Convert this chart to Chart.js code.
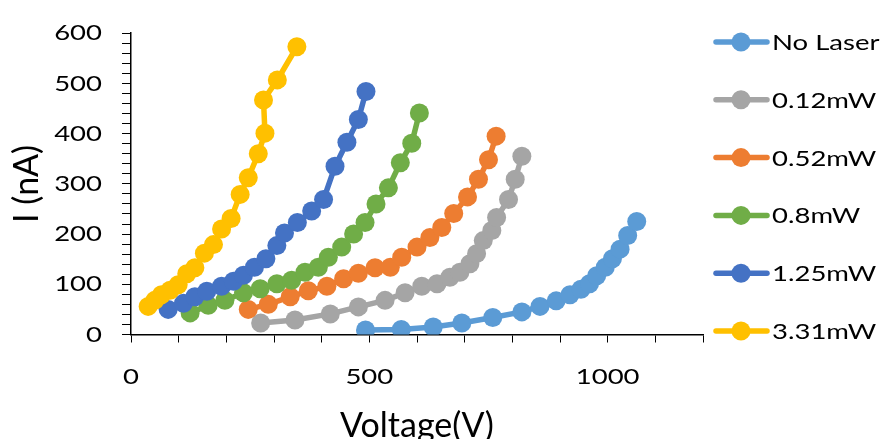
<!DOCTYPE html>
<html>
<head>
<meta charset="utf-8">
<script src="https://cdn.jsdelivr.net/npm/chart.js@4"></script>
<style>
    html, body { margin: 0; padding: 0; background: #fff; }
    canvas { display: block; }
</style>
</head>
<body>
<canvas id="ivChart" width="882" height="439"></canvas>
<script>
// I-V curves: current vs bias voltage for several laser powers.
// Points, one V/I array pair per series.

const seriesLabels = ['No Laser', '0.12mW', '0.52mW', '0.8mW', '1.25mW', '3.31mW'];
const seriesColors = ['#5B9BD5', '#A5A5A5', '#ED7D31', '#70AD47', '#4472C4', '#FFC000'];

const vNoLaser = [492, 567, 634, 694, 759, 820, 858, 892, 921, 944, 962, 977, 995, 1010, 1026, 1042, 1061];
const iNoLaser = [9, 10, 15, 23, 34, 45, 56, 67, 79, 90, 101, 117, 134, 151, 170, 197, 225];

const v012 = [272, 344, 418, 477, 533, 575, 610, 642, 669, 690, 711, 725, 739, 757, 767, 792, 806, 820];
const i012 = [23, 29, 41, 55, 68, 83, 96, 101, 114, 124, 141, 161, 187, 207, 233, 269, 309, 355];

const v052 = [246, 288, 334, 372, 411, 446, 477, 512, 544, 568, 600, 627, 652, 677, 706, 729, 750, 766];
const i052 = [50, 60, 75, 87, 96, 111, 122, 133, 134, 154, 174, 193, 213, 241, 274, 309, 348, 395];

const v08 = [124, 162, 197, 236, 271, 306, 337, 365, 393, 414, 442, 467, 491, 514, 540, 565, 589, 605];
const i08 = [43, 58, 68, 83, 91, 101, 108, 124, 134, 154, 174, 200, 223, 260, 292, 342, 381, 441];

const v125 = [78, 110, 134, 159, 190, 215, 236, 259, 283, 306, 322, 349, 379, 404, 428, 453, 477, 493];
const i125 = [50, 62, 75, 86, 96, 106, 118, 134, 151, 177, 202, 223, 246, 269, 335, 383, 428, 484];

const v331 = [36, 50, 64, 82, 99, 117, 134, 154, 173, 190, 210, 229, 246, 267, 281, 278, 307, 348];
const i331 = [56, 68, 79, 88, 99, 121, 133, 162, 179, 210, 231, 279, 312, 360, 401, 467, 507, 573];

const voltages = [vNoLaser, v012, v052, v08, v125, v331];
const currents = [iNoLaser, i012, i052, i08, i125, i331];

const xTickLabels = [0, 500, 1000];
const yTickLabels = [0, 100, 200, 300, 400, 500, 600];

const FONT = 'Lato';
// Tick and legend text in the reference is wider than a normal face: stretch those
// glyphs sideways around their anchor point (axis titles are left alone).
const TEXT_STRETCH = 1.25;

const canvas = document.getElementById('ivChart');
const ctx = canvas.getContext('2d');
const rawFillText = ctx.fillText;
ctx.fillText = function (text, x, y, maxWidth) {
    if (!/\b22px/.test(this.font)) return rawFillText.call(this, text, x, y, maxWidth);
    const m = this.getTransform();
    const px = m.a * x + m.c * y + m.e;
    this.save();
    this.setTransform(m.a * TEXT_STRETCH, m.b, m.c * TEXT_STRETCH, m.d, (m.e - px) * TEXT_STRETCH + px, m.f);
    rawFillText.call(this, text, x, y, maxWidth);
    this.restore();
};

// Excel-style legend: line sample with a marker in the middle, stacked on the right.
const sideLegend = {
    id: 'sideLegend',
    afterDraw(chart) {
        const c = chart.ctx;
        chart.data.datasets.forEach((ds, i) => {
            const y = 42 + i * 57.8;
            c.save();
            c.strokeStyle = ds.borderColor;
            c.lineWidth = 5.5;
            c.lineCap = 'round';
            c.beginPath();
            c.moveTo(716, y);
            c.lineTo(767, y);
            c.stroke();
            c.fillStyle = ds.borderColor;
            c.beginPath();
            c.arc(741, y, 9.5, 0, Math.PI * 2);
            c.fill();
            c.fillStyle = '#000';
            c.font = `22px ${FONT}`;
            c.textAlign = 'left';
            c.textBaseline = 'middle';
            c.fillText(ds.label, 772, y + 1);
            c.restore();
        });
    }
};

const datasets = seriesLabels.map((label, i) => ({
    label,
    data: voltages[i].map((v, k) => ({ x: v, y: currents[i][k] })),
    showLine: true,
    borderColor: seriesColors[i],
    backgroundColor: seriesColors[i],
    borderWidth: 5.5,
    pointRadius: 9.5,
    pointHoverRadius: 9.5,
    pointBorderWidth: 0,
    order: seriesLabels.length - i
}));

new Chart(ctx, {
    type: 'scatter',
    data: { datasets },
    plugins: [sideLegend],
    options: {
        responsive: false,
        animation: false,
        devicePixelRatio: 1,
        events: [],
        layout: { padding: { top: 31, right: 179, left: 0, bottom: 0 } },
        plugins: { legend: { display: false }, tooltip: { enabled: false } },
        scales: {
            x: {
                type: 'linear',
                min: 0,
                max: 1200,
                afterFit: (scale) => { scale.height = 104.5; },
                ticks: {
                    stepSize: 100,
                    autoSkip: false,
                    maxRotation: 0,
                    padding: 21,
                    color: '#000',
                    font: { family: FONT, size: 22 },
                    callback: (v) => xTickLabels.includes(v) ? String(v) : ''
                },
                grid: { drawOnChartArea: false, tickLength: 8, color: '#000', lineWidth: 1 },
                border: { color: '#000', width: 1.5 },
                title: {
                    display: true,
                    text: 'Voltage(V)',
                    color: '#000',
                    font: { family: FONT, size: 34 },
                    padding: { top: 0, bottom: -7 }
                }
            },
            y: {
                min: 0,
                max: 600,
                afterFit: (scale) => { scale.width = 131; },
                ticks: {
                    stepSize: 20,
                    autoSkip: false,
                    padding: 20,
                    color: '#000',
                    font: { family: FONT, size: 22 },
                    callback: (v) => yTickLabels.includes(v) ? String(v) : ''
                },
                grid: { drawOnChartArea: false, tickLength: 9, color: '#000', lineWidth: 1 },
                border: { color: '#000', width: 1.5 },
                title: {
                    display: true,
                    text: 'I (nA)',
                    color: '#000',
                    font: { family: FONT, size: 34 },
                    padding: { top: 7, bottom: 0 }
                }
            }
        }
    }
});
</script>
</body>
</html>
